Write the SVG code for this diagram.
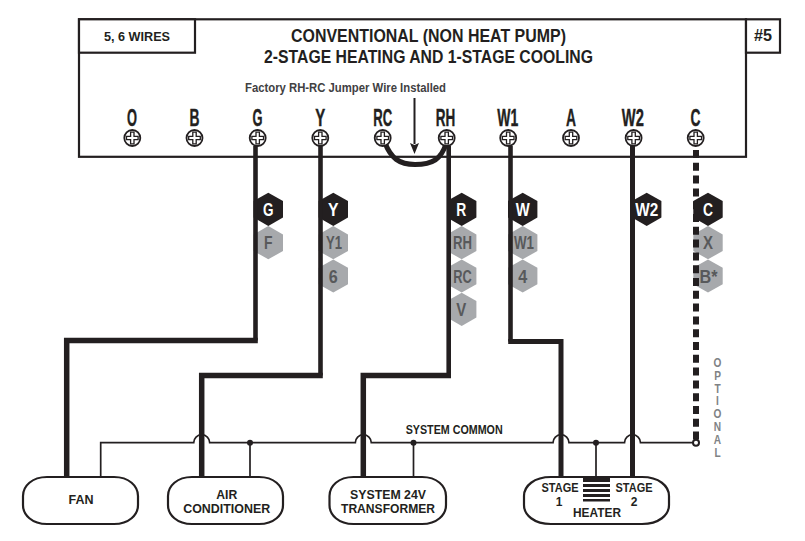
<svg xmlns="http://www.w3.org/2000/svg" width="805" height="541" viewBox="0 0 805 541">
<style>
text{font-family:"Liberation Sans",Arial,sans-serif;font-weight:700;fill:#231f20;text-anchor:middle}
.t{font-size:23px;stroke:#231f20;stroke-width:.4}
.u{font-size:12px}
.hd{font-size:18px;fill:#fff}
.hl{font-size:18px;fill:#58595b}
.box{fill:#fff;stroke:#231f20;stroke-width:2.2}
.unit{fill:#fff;stroke:#231f20;stroke-width:2.2}
.w{fill:none;stroke:#231f20;stroke-linejoin:miter}
.o{font-size:13px;fill:#808285}
.dark{fill:#231f20}
.grey{fill:#a7a9ac}
</style>
<defs>
<g id="screw"><circle r="8" fill="#fff" stroke="#231f20" stroke-width="1.8"/><path d="M-1.7-5.8H1.700V-1.700H5.800V1.700H1.700V5.800H-1.700V1.700H-5.800V-1.700H-1.700Z" fill="#fff" stroke="#231f20" stroke-width="1.300"/></g>
<polygon id="hex" points="0,-16.600 14.700,-8.300 14.700,8.300 0,16.600 -14.700,8.300 -14.700,-8.300"/>
</defs>

<g id="panel">
<rect class="box" x="79" y="19.300" width="667" height="137.500"/>
<rect class="box" x="79" y="19.300" width="116" height="33.400"/>
<rect class="box" x="746" y="19.300" width="34" height="33.400"/>
<text x="137" y="41" font-size="12.500" textLength="66" lengthAdjust="spacingAndGlyphs">5, 6 WIRES</text>
<text x="763" y="41" font-size="16.500" textLength="18" lengthAdjust="spacingAndGlyphs">#5</text>
<text x="428.500" y="42" font-size="17.500" textLength="275" lengthAdjust="spacingAndGlyphs">CONVENTIONAL (NON HEAT PUMP)</text>
<text x="428.500" y="62.500" font-size="17.500" textLength="329" lengthAdjust="spacingAndGlyphs">2-STAGE HEATING AND 1-STAGE COOLING</text>
<text x="345.500" y="92" font-size="13.500" style="fill:#414042" textLength="201" lengthAdjust="spacingAndGlyphs">Factory RH-RC Jumper Wire Installed</text>
</g>

<g id="wire-tags">
<g id="tag-G"><use href="#hex" x="268.300" y="209.300" class="dark"/><text class="hd" x="268.300" y="215.800" textLength="10.500" lengthAdjust="spacingAndGlyphs">G</text><use href="#hex" x="268.300" y="242.700" class="grey"/><text class="hl" x="268.300" y="249.200" textLength="8.500" lengthAdjust="spacingAndGlyphs">F</text></g>
<g id="tag-Y"><use href="#hex" x="333.300" y="209.300" class="dark"/><text class="hd" x="333.300" y="215.800" textLength="10.500" lengthAdjust="spacingAndGlyphs">Y</text><use href="#hex" x="333.300" y="242.700" class="grey"/><text class="hl" x="334" y="249.200" textLength="16" lengthAdjust="spacingAndGlyphs">Y1</text><use href="#hex" x="333.300" y="276" class="grey"/><text class="hl" x="333.300" y="282.500" textLength="9" lengthAdjust="spacingAndGlyphs">6</text></g>
<g id="tag-R"><use href="#hex" x="461.700" y="209.300" class="dark"/><text class="hd" x="461.300" y="215.800" textLength="10" lengthAdjust="spacingAndGlyphs">R</text><use href="#hex" x="461.700" y="242.700" class="grey"/><text class="hl" x="462.500" y="249.200" textLength="19" lengthAdjust="spacingAndGlyphs">RH</text><use href="#hex" x="461.700" y="276" class="grey"/><text class="hl" x="462.500" y="282.500" textLength="18.500" lengthAdjust="spacingAndGlyphs">RC</text><use href="#hex" x="461.700" y="309.300" class="grey"/><text class="hl" x="461.300" y="315.800" textLength="10" lengthAdjust="spacingAndGlyphs">V</text></g>
<g id="tag-W"><use href="#hex" x="522.700" y="209.300" class="dark"/><text class="hd" x="522.700" y="215.800" textLength="14" lengthAdjust="spacingAndGlyphs">W</text><use href="#hex" x="522.700" y="242.700" class="grey"/><text class="hl" x="524" y="249.200" textLength="20" lengthAdjust="spacingAndGlyphs">W1</text><use href="#hex" x="522.700" y="276" class="grey"/><text class="hl" x="522.700" y="282.500" textLength="9" lengthAdjust="spacingAndGlyphs">4</text></g>
<g id="tag-W2"><use href="#hex" x="646.700" y="209.300" class="dark"/><text class="hd" x="646.700" y="215.800" textLength="23" lengthAdjust="spacingAndGlyphs">W2</text></g>
<g id="tag-C"><use href="#hex" x="708" y="209.300" class="dark"/><text class="hd" x="708" y="215.800" textLength="10" lengthAdjust="spacingAndGlyphs">C</text><use href="#hex" x="708" y="242.700" class="grey"/><text class="hl" x="708" y="249.200" textLength="10" lengthAdjust="spacingAndGlyphs">X</text><use href="#hex" x="708" y="276" class="grey"/><text class="hl" x="708.500" y="282.500" textLength="18" lengthAdjust="spacingAndGlyphs">B*</text></g>
</g>

<g id="connectors">
<path class="w" stroke-width="2" d="M414.500 98V144"/>
<polygon class="dark" points="410,143 414.500,145 419,143 414.500,154"/>
<path class="w" stroke-width="5" d="M385 143C391 158 399 164.500 415 164.500C433 164.500 441 159 446 144"/>
<path class="w" stroke-width="4.600" d="M255.500 146V340.500"/>
<path class="w" stroke-width="5.500" d="M257.800 340.500H66.700V477"/>
<path class="w" stroke-width="4.600" d="M320.500 146V375.500"/>
<path class="w" stroke-width="5.500" d="M322.800 375.500H201.700V477"/>
<path class="w" stroke-width="4.600" d="M448.700 146V375.500"/>
<path class="w" stroke-width="5.500" d="M451 375.500H363.300V477"/>
<path class="w" stroke-width="4.600" d="M510.500 146V341.500"/>
<path class="w" stroke-width="5" d="M508.200 341.500H561V477"/>
<path class="w" stroke-width="5" d="M632.500 146V477"/>
<path class="w" stroke-width="6" stroke-dasharray="8 4.800" d="M696 150V442"/>
<path class="w" stroke-width="1.700" d="M100.700 477V442.700H193.700A8 8 0 0 1 209.700 442.700H355.300A8 8 0 0 1 371.300 442.700H553A8 8 0 0 1 569 442.700H624.500A8 8 0 0 1 640.500 442.700H696"/>
<path class="w" stroke-width="1.700" d="M250 442.700V477M413.500 442.700V477M596 442.700V477"/>
<g class="dark"><circle cx="250" cy="442.700" r="3"/><circle cx="413.500" cy="442.700" r="3"/><circle cx="596" cy="442.700" r="3"/></g>
<circle cx="696" cy="442.700" r="3" fill="#fff" stroke="#231f20" stroke-width="2"/>
</g>

<g id="term-O"><text class="t" x="132" y="126" textLength="10" lengthAdjust="spacingAndGlyphs">O</text><use href="#screw" x="132.300" y="138"/></g>
<g id="term-B"><text class="t" x="194.500" y="126" textLength="10" lengthAdjust="spacingAndGlyphs">B</text><use href="#screw" x="194.500" y="138"/></g>
<g id="term-G"><text class="t" x="257.500" y="126" textLength="10" lengthAdjust="spacingAndGlyphs">G</text><use href="#screw" x="257.700" y="138"/></g>
<g id="term-Y"><text class="t" x="320.300" y="126" textLength="10" lengthAdjust="spacingAndGlyphs">Y</text><use href="#screw" x="320.300" y="138"/></g>
<g id="term-RC"><text class="t" x="382.700" y="126" textLength="19" lengthAdjust="spacingAndGlyphs">RC</text><use href="#screw" x="382.700" y="138"/></g>
<g id="term-RH"><text class="t" x="445.500" y="126" textLength="19.500" lengthAdjust="spacingAndGlyphs">RH</text><use href="#screw" x="446.700" y="138"/></g>
<g id="term-W1"><text class="t" x="507.700" y="126" textLength="21" lengthAdjust="spacingAndGlyphs">W1</text><use href="#screw" x="508.200" y="138"/></g>
<g id="term-A"><text class="t" x="571" y="126" textLength="10" lengthAdjust="spacingAndGlyphs">A</text><use href="#screw" x="571" y="138"/></g>
<g id="term-W2"><text class="t" x="632.800" y="126" textLength="22" lengthAdjust="spacingAndGlyphs">W2</text><use href="#screw" x="633.600" y="138"/></g>
<g id="term-C"><text class="t" x="695.500" y="126" textLength="10" lengthAdjust="spacingAndGlyphs">C</text><use href="#screw" x="695.700" y="138"/></g>

<g id="label-common"><text x="454.200" y="434" font-size="12" textLength="97" lengthAdjust="spacingAndGlyphs">SYSTEM COMMON</text></g>
<g id="label-optional"><text class="o" transform="translate(717.500 0) scale(.78 1)" x="0 0 0 0 0 0 0 0" y="367 380 393 405.500 418 431 444 457">OPTIONAL</text></g>

<g id="fan"><path class="unit" d="M47 477H114C129 477 138 486 138 496V505C138 515 129 524 114 524H47C32 524 23 515 23 505V496C23 486 32 477 47 477Z"/><text class="u" x="81" y="504" textLength="25" lengthAdjust="spacingAndGlyphs">FAN</text></g>
<g id="air-conditioner"><path class="unit" d="M192 477H259C274 477 283 486 283 496V505C283 515 274 524 259 524H192C177 524 168 515 168 505V496C168 486 177 477 192 477Z"/><text class="u" x="226.700" y="498.800" textLength="21" lengthAdjust="spacingAndGlyphs">AIR</text><text class="u" x="226.700" y="512.800" textLength="87" lengthAdjust="spacingAndGlyphs">CONDITIONER</text></g>
<g id="transformer"><path class="unit" d="M353.500 477H422C437 477 446 486 446 496V505C446 515 437 524 422 524H353.500C338.500 524 329.500 515 329.500 505V496C329.500 486 338.500 477 353.500 477Z"/><text class="u" x="388" y="498.800" textLength="76" lengthAdjust="spacingAndGlyphs">SYSTEM 24V</text><text class="u" x="388" y="512.800" textLength="94" lengthAdjust="spacingAndGlyphs">TRANSFORMER</text></g>
<g id="heater"><path class="unit" d="M551 477H642C659 477 669 486 669 496V505C669 515 659 524 642 524H551C534 524 524 515 524 505V496C524 486 534 477 551 477Z"/>
<path class="dark" d="M583 477.500H610V482H583ZM583 484H610V487H583ZM583 489H610V492H583ZM583 494H610V497H583ZM583 499H610V501.500H583Z"/>
<text class="u" x="560" y="491.500" textLength="37" lengthAdjust="spacingAndGlyphs">STAGE</text><text class="u" x="559" y="505.500">1</text><text class="u" x="634" y="491.500" textLength="37" lengthAdjust="spacingAndGlyphs">STAGE</text><text class="u" x="634" y="505.500">2</text><text class="u" x="597" y="517" textLength="48" lengthAdjust="spacingAndGlyphs">HEATER</text></g>
</svg>
